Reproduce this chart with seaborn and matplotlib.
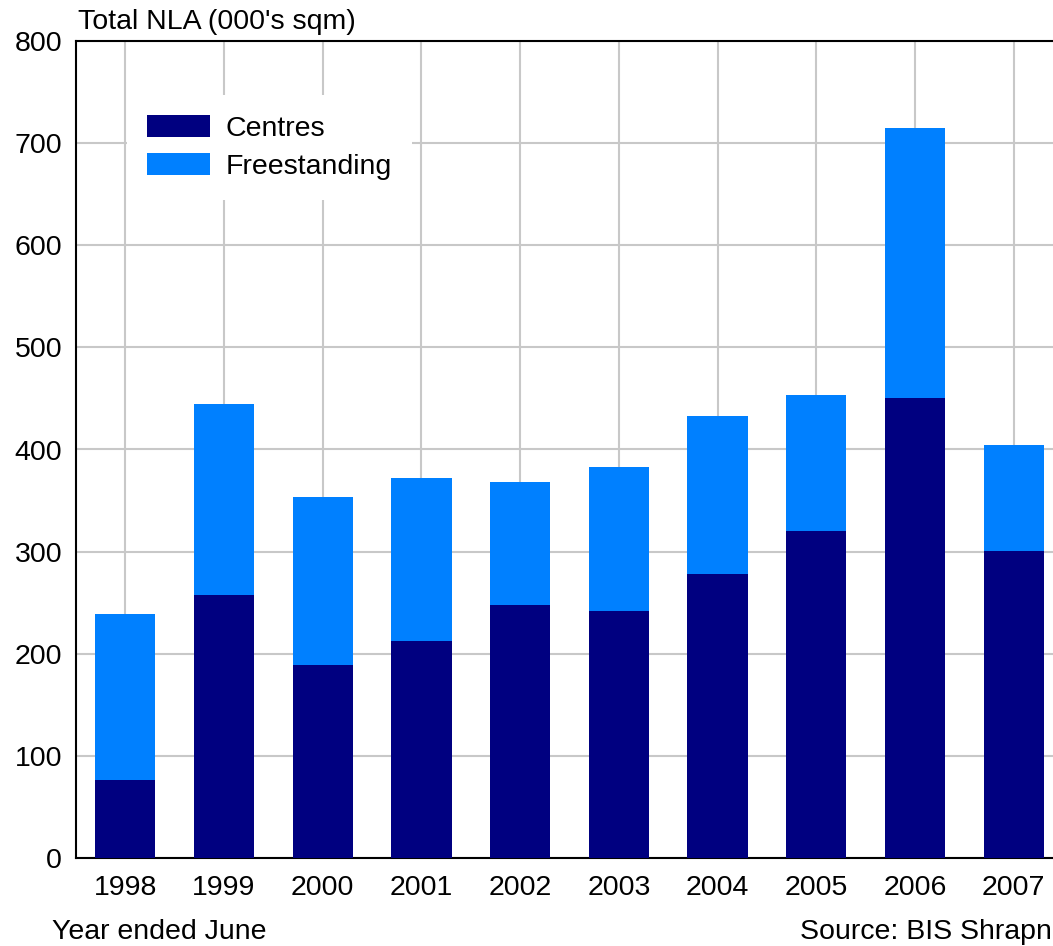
import matplotlib
matplotlib.use("Agg")
import matplotlib.pyplot as plt
import seaborn as sns
import pandas as pd

# values (000's sqm)
years = ['1998', '1999', '2000', '2001', '2002', '2003', '2004', '2005', '2006', '2007']
centres = [76, 258, 189, 212, 248, 242, 278, 320, 450, 301]
freestanding = [163, 187, 164, 160, 120, 141, 155, 133, 265, 103]

df = pd.DataFrame({'year': years, 'Centres': centres, 'Freestanding': freestanding})
df['total'] = df['Centres'] + df['Freestanding']

sns.set_style('white')
plt.rcParams['font.family'] = ['Liberation Sans', 'DejaVu Sans']
plt.rcParams['font.size'] = 20.5
plt.rcParams['text.color'] = 'black'

fig = plt.figure(figsize=(10.53, 9.46), dpi=100)
ax = fig.add_axes([76 / 1053, 88 / 946, 987 / 1053, 817 / 946])

# stacked bars: total drawn first, centres on top of it
sns.barplot(data=df, x='year', y='total', color='#0080FF', width=0.61,
            saturation=1, label='Freestanding', ax=ax, zorder=3, linewidth=0)
sns.barplot(data=df, x='year', y='Centres', color='#000080', width=0.61,
            saturation=1, label='Centres', ax=ax, zorder=3, linewidth=0)

ax.set_ylim(0, 800)
ax.set_xlim(-0.5, 9.5)
ax.set_yticks(range(0, 801, 100))
ax.set_xlabel('')
ax.set_ylabel('')
ax.grid(True, color='#c8c8c8', linewidth=1.5, zorder=0)
ax.set_axisbelow(True)
ax.tick_params(axis='both', length=0, labelsize=20.5, colors='black')
ax.tick_params(axis='y', pad=10)
ax.tick_params(axis='x', pad=12)
for side in ['left', 'bottom', 'top']:
    ax.spines[side].set_color('black')
    ax.spines[side].set_linewidth(1.5)
ax.spines['right'].set_visible(False)

handles, labels = ax.get_legend_handles_labels()
order = [labels.index('Centres'), labels.index('Freestanding')]
leg = ax.legend([handles[i] for i in order], [labels[i] for i in order],
                loc='upper left', bbox_to_anchor=(0.052, 0.934), frameon=True,
                fancybox=False, framealpha=1, edgecolor='white', fontsize=20.5,
                handlelength=2.2, handleheight=0.8, handletextpad=0.55,
                labelspacing=0.4, borderpad=0.7, borderaxespad=0)
leg.get_frame().set_linewidth(0)
leg.set_zorder(5)

fig.text(78 / 1053, 1 - 22 / 946, "Total NLA (000's sqm)", fontsize=20.5, va='center', ha='left')
fig.text(52 / 1053, 1 - 932 / 946, 'Year ended June', fontsize=20.5, va='center', ha='left')
fig.text(800 / 1053, 1 - 932 / 946, 'Source: BIS Shrapnel', fontsize=20.5, va='center', ha='left')

fig.savefig('out.png', dpi=100)
